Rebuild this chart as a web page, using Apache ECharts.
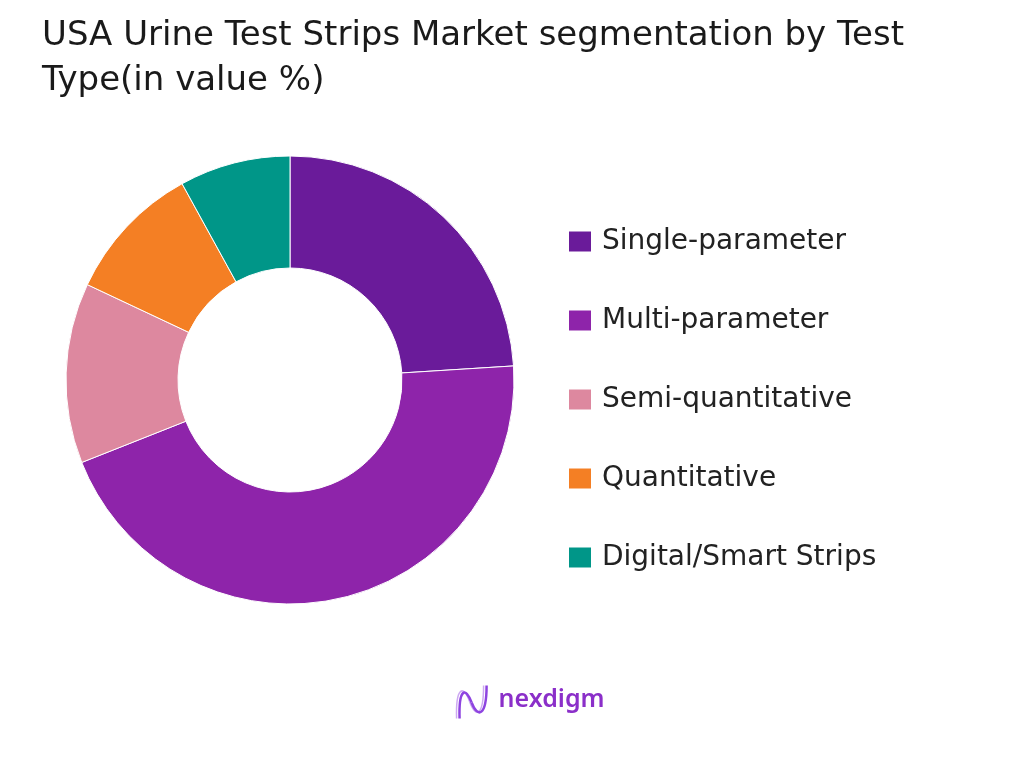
<!DOCTYPE html>
<html><head><meta charset="utf-8">
<script src="https://cdn.jsdelivr.net/npm/echarts@6/dist/echarts.min.js"></script>
<style>html,body{margin:0;padding:0;background:#fff}#c{width:1024px;height:768px}</style>
</head><body><div id="c"></div>
<script>
const categories = ['Single-parameter', 'Multi-parameter', 'Semi-quantitative', 'Quantitative', 'Digital/Smart Strips'];
const values = [24, 45, 13, 10, 8];
const colors = ['#6A1B9A', '#8E24AA', '#DD889F', '#F47F24', '#009688'];

const chart = echarts.init(document.getElementById('c'));
chart.setOption({
  animation: false,
  backgroundColor: '#fff',
  color: colors,
  title: {
    text: 'USA Urine Test Strips Market segmentation by Test\nType(in value %)',
    left: 37, top: 9,
    textStyle: { fontFamily: 'DejaVu Sans', fontWeight: 'normal', fontSize: 34, lineHeight: 45, color: '#1a1a1a' }
  },
  legend: {
    orient: 'vertical', left: 562, top: 222,
    itemWidth: 24, itemHeight: 22, itemGap: 50,
    icon: 'rect',
    textStyle: { fontFamily: 'DejaVu Sans', fontSize: 28, lineHeight: 29, color: '#222', padding: [0, 0, 0, 5] },
    data: categories
  },
  series: [{
    type: 'pie',
    center: [290, 380],
    radius: [112, 224],
    startAngle: 90,
    clockwise: true,
    label: { show: false },
    labelLine: { show: false },
    itemStyle: { borderColor: '#fff', borderWidth: 1 },
    emphasis: { disabled: true },
    data: categories.map((n, i) => ({ name: n, value: values[i] }))
  }],
  graphic: [
    {
      type: 'group', left: 454, top: 683,
      children: [
        { type: 'bezierCurve', shape: { x1: 4, y1: 34, cpx1: 3, cpy1: 2, cpx2: 11, cpy2: 0, x2: 17, y2: 17 }, style: { fill: null, stroke: '#CDA8F2', lineWidth: 1.5 } },
        { type: 'bezierCurve', shape: { x1: 17, y1: 17, cpx1: 23, cpy1: 34, cpx2: 31, cpy2: 32, x2: 31, y2: 1 }, style: { fill: null, stroke: '#CDA8F2', lineWidth: 1.5 } },
        { type: 'bezierCurve', shape: { x1: 7, y1: 34, cpx1: 6, cpy1: 4, cpx2: 13, cpy2: 2, x2: 19, y2: 18 }, style: { fill: null, stroke: '#8E44E0', lineWidth: 2.5 } },
        { type: 'bezierCurve', shape: { x1: 19, y1: 18, cpx1: 25, cpy1: 34, cpx2: 34, cpy2: 32, x2: 34, y2: 1 }, style: { fill: null, stroke: '#8E44E0', lineWidth: 2.5 } },
        { type: 'text', x: 46, y: 3, style: { text: 'nexdigm', fontFamily: 'Noto Sans', fontWeight: 600, fontSize: 25, fill: '#8B2FC9' } }
      ]
    }
  ]
});
</script></body></html>
